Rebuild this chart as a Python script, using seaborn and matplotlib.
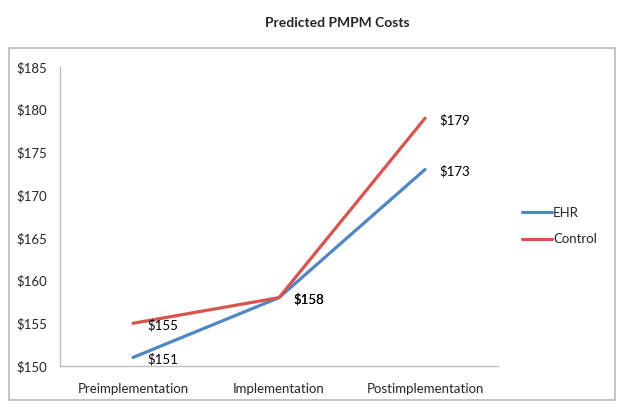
import pandas as pd
import matplotlib
matplotlib.use('Agg')
import matplotlib.pyplot as plt
import seaborn as sns
from matplotlib.patches import Rectangle


# data
phases       = ['Preimplementation', 'Implementation', 'Postimplementation']
ehr_cost     = [151, 158, 173]
control_cost = [155, 158, 179]
series_names = ['EHR', 'Control']
colors       = {'EHR': '#4f86c6', 'Control': '#d9534f'}
y_ticks      = [150, 155, 160, 165, 170, 175, 180, 185]


df = pd.DataFrame({
    'Phase'  : phases * 2,
    'Cost'   : ehr_cost + control_cost,
    'Series' : [series_names[0]] * 3 + [series_names[1]] * 3,
})

sns.set_style('white')
plt.rcParams['font.family'] = ['Lato', 'DejaVu Sans']

fig = plt.figure(figsize = (6.22, 4.09), dpi = 100)
ax  = fig.add_axes([60 / 622, 1 - 366 / 409, 438 / 622, 299 / 409])

sns.lineplot(data = df, x = 'Phase', y = 'Cost', hue = 'Series',
             palette = colors, sort = False, linewidth = 2.3, ax = ax)

# value labels, to the right of every point
for _, row in df.iterrows():
    ax.annotate(f"${row['Cost']}", (phases.index(row['Phase']), row['Cost']),
                xytext = (14, -2), textcoords = 'offset pixels',
                ha = 'left', va = 'center', fontsize = 9.5, color = 'black')

ax.set_xlim(-0.5, 2.5)
ax.set_ylim(150, 185)
ax.set_yticks(y_ticks)
ax.set_yticklabels([f'${v}' for v in y_ticks], fontsize = 9.5)
ax.set_xticks(range(3))
ax.set_xticklabels(phases, fontsize = 9.5)
ax.set_xticks([-0.5, 0.5, 1.5, 2.5], minor = True)
ax.tick_params(axis = 'x', which = 'major', length = 0, pad = 12)
ax.tick_params(axis = 'x', which = 'minor', length = 3, width = 1, color = '#bfbfbf', direction = 'out')
ax.tick_params(axis = 'y', length = 3, width = 1, color = '#bfbfbf', direction = 'out', pad = 6)
ax.set_xlabel('')
ax.set_ylabel('')

sns.despine(ax = ax)
for side in ['left', 'bottom']:
    ax.spines[side].set_color('#bfbfbf')
    ax.spines[side].set_linewidth(1)

handles, labels = ax.get_legend_handles_labels()
ax.legend(handles, labels, loc = 'center left',
          bbox_to_anchor = (522 / 622, 1 - 226 / 409), bbox_transform = fig.transFigure,
          frameon = False, fontsize = 9.5, handlelength = 2.3, handletextpad = 0.05,
          labelspacing = 1.1, borderpad = 0, borderaxespad = 0)

fig.text(337 / 622, 1 - 23 / 409, 'Predicted PMPM Costs',
         ha = 'center', va = 'center', fontsize = 10, fontweight = 'bold')

# chart border
fig.patches.append(Rectangle((9 / 622, 1 - 400 / 409), 606 / 622, 352 / 409,
                             transform = fig.transFigure, fill = False,
                             edgecolor = '#bfbfbf', linewidth = 1.3))

fig.savefig('out.png', dpi = 100)
